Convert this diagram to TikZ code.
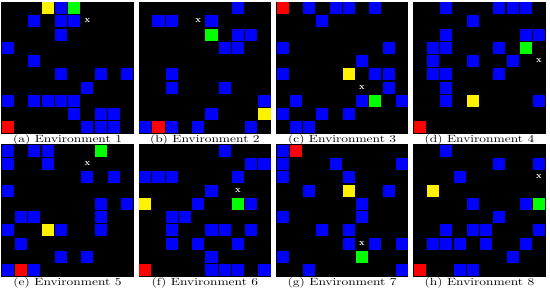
\documentclass[tikz,border=0pt]{standalone}
\usepackage{tikz}
\tikzset{
    panelbg/.style={fill=black},
    bcell/.style={fill=blue},
    ycell/.style={fill=yellow},
    gcell/.style={fill=green},
    rcell/.style={fill=red},
    goalmark/.style={text=white, font=\fontsize{9}{9}\selectfont\bfseries, inner sep=0pt},
    caplabel/.style={font=\fontsize{10.5}{11}\selectfont, inner sep=0pt, xscale=1.28},
}
\newcommand{\cellfill}[3]{\fill[#1] ({#2*13.25+0.6},{#3*13.25+0.6}) rectangle +(12.05,12.05);}
\newcommand{\envpanel}[9]{%
    \begin{scope}[shift={(#3,#4)}]
        \fill[panelbg] (0,0) rectangle (132.5,132.5);
        \foreach \cx/\cy in {#5} {\cellfill{bcell}{\cx}{\cy}}
        \foreach \cx/\cy in {#6} {\cellfill{ycell}{\cx}{\cy}}
        \foreach \cx/\cy in {#7} {\cellfill{gcell}{\cx}{\cy}}
        \foreach \cx/\cy in {#8} {\cellfill{rcell}{\cx}{\cy}}
        \foreach \cx/\cy in {#9} {\node[goalmark] (x#1) at ({\cx*13.25+6.6},{\cy*13.25+6.0}) {x};}
        \node[caplabel] (cap#1) at (66.25,138.5) {(#1) Environment #2};
    \end{scope}}

\begin{document}
\begin{tikzpicture}[x=1pt, y=-1pt]
    \useasboundingbox (0,0) rectangle (550,290);
    \envpanel{a}{1}{1.3}{1.5}{4/0,2/1,4/1,5/1,4/2,0/3,2/4,4/5,7/5,9/5,6/6,0/7,2/7,3/7,4/7,5/7,5/8,7/8,8/8,6/9,7/9,8/9}{3/0}{5/0}{0/9}{6/1}
    \envpanel{b}{2}{138.6}{1.5}{7/0,1/1,2/1,5/1,7/2,8/2,6/3,7/3,2/5,2/6,6/6,9/7,5/8,0/9,2/9,4/9,8/9}{9/8}{5/2}{1/9}{4/1}
    \envpanel{c}{3}{275.9}{1.5}{2/0,4/0,5/0,7/0,3/1,0/3,8/3,6/4,0/5,7/5,8/5,8/6,1/7,6/7,9/7,0/8,3/8,5/8,1/9,2/9}{5/5}{7/7}{0/0}{6/6}
    \envpanel{d}{4}{413.2}{1.5}{2/0,6/0,7/0,8/0,4/1,2/2,8/2,9/2,1/3,2/3,6/3,1/4,4/4,7/4,1/5,2/5,6/5,2/6,2/7,9/7}{4/7}{8/3}{0/9}{9/4}
    \envpanel{e}{5}{1.3}{144.3}{0/0,2/0,3/0,0/1,3/1,6/2,8/2,0/3,7/4,9/4,1/5,2/5,7/5,0/6,4/6,7/6,1/7,4/8,6/8,0/9,2/9}{3/6}{7/0}{1/9}{6/1}
    \envpanel{f}{6}{138.6}{144.3}{6/0,8/1,9/1,0/2,1/2,2/2,7/2,5/3,4/4,8/4,2/5,3/5,2/6,5/6,6/6,8/6,2/7,4/7,7/7,5/8,5/9,6/9,7/9,9/9}{0/4}{7/4}{0/9}{7/3}
    \envpanel{g}{7}{275.9}{144.3}{0/0,0/1,4/1,9/1,0/2,5/2,2/3,8/3,6/4,0/5,6/5,3/6,5/6,5/7,7/7,9/7,0/8,2/9,9/9}{5/3}{6/8}{1/0}{6/7}
    \envpanel{h}{8}{413.2}{144.3}{2/0,6/1,9/1,3/2,4/4,8/4,6/5,2/6,4/6,5/6,9/6,1/7,2/7,3/7,5/7,8/7,7/8,3/9,4/9}{1/3}{9/4}{0/9}{9/2}
\end{tikzpicture}
\end{document}
